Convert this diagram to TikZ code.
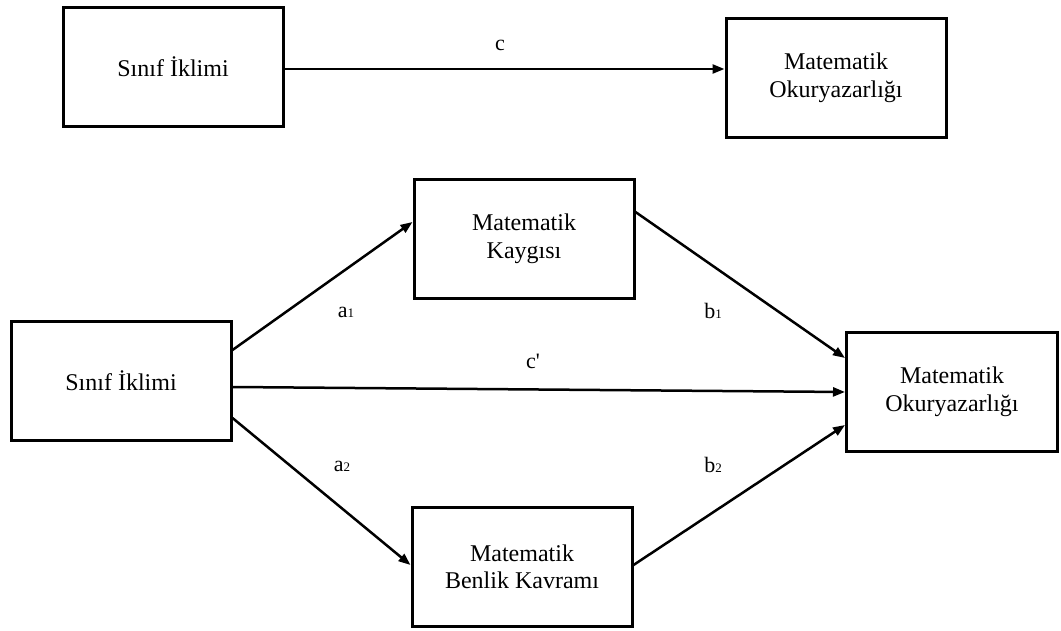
\documentclass[tikz,border=0pt]{standalone}
\usepackage{fontspec}
\setmainfont{Liberation Serif}
\usetikzlibrary{arrows.meta}

\tikzset{
  kutu/.style={draw, line width=3pt, minimum width=220pt, minimum height=119pt,
    inner sep=0pt, align=center, font=\fontsize{24}{27.5}\selectfont},
  ok/.style={line width=2.5pt, -{Triangle[length=12pt,width=9pt]}},
  etiket/.style={inner sep=0pt, font=\fontsize{22}{24}\selectfont}
}
\newcommand{\altsayi}[1]{{\fontsize{13}{13}\selectfont #1}}

\begin{document}
\begin{tikzpicture}[x=1pt,y=-1pt]
  \useasboundingbox (0,0) rectangle (1061,631);

  % total effect
  \node[kutu] (sinif1) at (173,67) {Sınıf İklimi};
  \node[kutu] (okur1) at (836,78) {Matematik\\Okuryazarlığı};
  \draw[ok] ([yshift=-2pt]sinif1.east) -- ([yshift=-2pt]sinif1.east -| okur1.west);
  \node[etiket] (c) at (500,45) {c};

  % mediation model
  \node[kutu] (sinif2) at (121,381) {Sınıf İklimi};
  \node[kutu] (kaygi) at (524,239) {Matematik\\Kaygısı};
  \node[kutu] (benlik) at (522,567) {Matematik\\Benlik Kavramı};
  \node[kutu, minimum width=211pt] (okur2) at (952,392) {Matematik\\Okuryazarlığı};

  \draw[ok] ([yshift=31pt]sinif2.east) -- ([yshift=17pt]kaygi.west);
  \draw[ok] ([yshift=27pt]kaygi.east) -- ([yshift=34pt]okur2.west);
  \draw[ok] ([yshift=-6pt]sinif2.east) -- (okur2.west);
  \draw[ok] ([yshift=-37pt]sinif2.east) -- ([yshift=2pt]benlik.west);
  \draw[ok] ([yshift=2pt]benlik.east) -- ([yshift=-33pt]okur2.west);

  \node[etiket] (a1) at (346,312) {a\altsayi{1}};
  \node[etiket] (b1) at (713,311) {b\altsayi{1}};
  \node[etiket] (cp) at (533,361) {c\textquotesingle};
  \node[etiket] (a2) at (342,466) {a\altsayi{2}};
  \node[etiket] (b2) at (713,465) {b\altsayi{2}};
\end{tikzpicture}
\end{document}
